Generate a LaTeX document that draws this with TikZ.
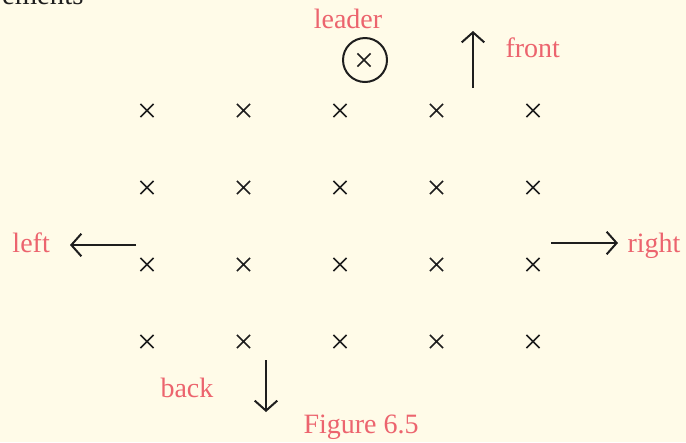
\documentclass[tikz,border=0pt]{standalone}
\usepackage{fontspec}
\setmainfont{Liberation Serif}
\usepackage{xcolor}
\usepackage{tikz}
\usetikzlibrary{matrix,arrows.meta,shapes.misc}
\usetikzlibrary{positioning}

\definecolor{paper}{RGB}{255,251,232}
\definecolor{rose}{RGB}{236,100,110}
\definecolor{ink}{RGB}{30,30,30}

\begin{document}
\begin{tikzpicture}[x=0.4pt, y=-0.4pt,
	xmark/.style={cross out, draw=ink, line width=0.65pt, minimum size=4.6pt, inner sep=0pt},
	lbl/.style={text=rose, font=\fontsize{11.2}{13}\selectfont, inner sep=0pt},
	dir/.style={-{Straight Barb[length=4pt,width=9pt]}, draw=ink, line width=0.8pt}]
\fill[paper] (0,0) rectangle (686,442);
\useasboundingbox (0,0) rectangle (686,442);
\matrix (m) at (340,226) [matrix of nodes, nodes in empty cells, row sep=24.9pt, column sep=32.7pt, nodes=xmark]
{
	& & & & \\
	& & & & \\
	& & & & \\
	& & & & \\
};
% leader in his ring
\node[xmark] (lead) at (364,60) {};
\node[draw=ink, circle, line width=0.8pt, minimum size=17.6pt, inner sep=0pt] (ring) at (365,60) {};
\node[lbl, anchor=base] (leader) at (348,28) {leader};
% directions
\coordinate (up0) at (473,88);
\coordinate (up1) at (473,31);
\coordinate (lf0) at (136,245);
\coordinate (lf1) at (70,245);
\coordinate (rt0) at (551,243);
\coordinate (rt1) at (618,243);
\coordinate (dn0) at (266,360);
\coordinate (dn1) at (266,412);
\draw[dir] (up0) -- (up1);
\draw[dir] (lf0) -- (lf1);
\draw[dir] (rt0) -- (rt1);
\draw[dir] (dn0) -- (dn1);
\node[lbl, anchor=base west] (front) at (505,57) {front};
\node[lbl, anchor=base west] (left) at (12,252) {left};
\node[lbl, anchor=base west] (right) at (627,252) {right};
\node[lbl, anchor=base west] (back) at (160,397) {back};
\node[lbl, anchor=base west] (caption) at (303,433) {Figure 6.5};
\node[anchor=base east, text=ink, inner sep=0pt, font=\fontsize{11.5}{13}\selectfont] (head) at (84,4) {ements};
\end{tikzpicture}
\end{document}
